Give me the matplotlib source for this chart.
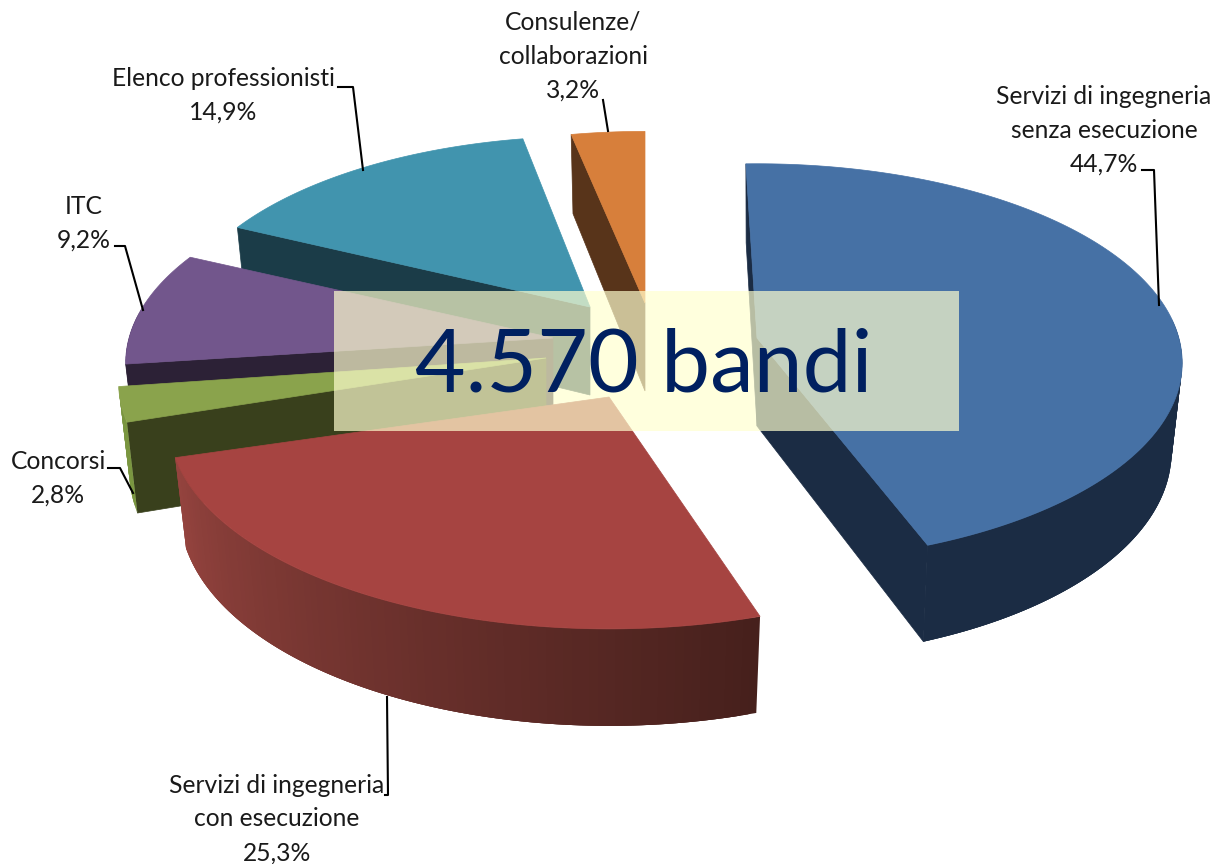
import numpy as np
import matplotlib
matplotlib.use('Agg')
import matplotlib.pyplot as plt
from matplotlib.patches import Polygon, Rectangle

# ---- dati
categorie = ['Servizi di ingegneria\nsenza esecuzione', 'Servizi di ingegneria\ncon esecuzione',
             'Concorsi', 'ITC', 'Elenco professionisti', 'Consulenze/\ncollaborazioni']
valori = [44.7, 25.3, 2.8, 9.2, 14.9, 3.2]
totale_bandi = '4.570 bandi'

# ---- stile delle fette (stesso ordine dei valori)
col_top = ['#4671a5', '#a64441', '#8aa34c', '#72568c', '#4194ae', '#d77f3b']
col_lato_a = ['#1b2c44', '#46201c', '#7a9640', '#2c2136', '#1b3c48', '#58341a']  # inizio fetta
col_lato_b = ['#1b2c44', '#96443f', '#7a9640', '#2c2136', '#1b3c48', '#58341a']  # fine fetta
col_taglio = ['#1b2c44', '#46201c', '#39401c', '#2c2136', '#1b3c48', '#58341a']
apice = [(757, 338), (609, 397), (546, 358), (553, 338), (590, 307), (645, 303)]  # esplosione
rotaz = [-1.7, 1.5, 0, 0.7, 1, 0]
scala = [0.995, 1.03, 1, 1, 0.975, 0.98]

# ---- etichette
pos_etich = [(1104, 130), (277, 819), (58, 478), (84, 223), (223, 95), (573, 56)]
leader = [[(1159, 305), (1154, 170), (1142, 170)],
          [(387, 697), (388, 795), (385, 795)],
          [(133, 493), (120, 468), (108, 468)],
          [(143, 310), (125, 246), (115, 246)],
          [(363, 170), (353, 87), (338, 87)],
          [(608, 131), (603, 100)]]

A, B, K = 424., 197., 0.125


def proiezione(t, centro, sc, basso=False):
    # punto del bordo (o del piano inferiore) della torta in prospettiva
    t = np.radians(t)
    X, Y = np.sin(t), np.cos(t)
    s = sc / (1 + K * Y)
    x, y = A * X * s, -B * Y * s
    if basso:
        x = x * 0.975
        y = y + 88 - 9 * Y
    return centro[0] + x, centro[1] + y


def mix(c1, c2, f):
    c1, c2 = np.array(matplotlib.colors.to_rgb(c1)), np.array(matplotlib.colors.to_rgb(c2))
    return tuple(c1 + (c2 - c1) * f)


def disegna_fetta(ax, i, t0, t1):
    c, sc = apice[i], scala[i]
    ang = np.arange(t0, t1, 1.0)
    ang = np.append(ang, t1)
    alto = [proiezione(t, c, sc) for t in ang]
    giu = [proiezione(t, c, sc, True) for t in ang]
    c_giu = (c[0], c[1] + 88)
    # tagli radiali, solo quelli rivolti verso chi guarda
    if np.sin(np.radians(t0)) < 0:
        ax.add_patch(Polygon([c, alto[0], giu[0], c_giu], fc=col_taglio[i], ec=col_taglio[i], lw=0.5))
    if np.sin(np.radians(t1)) > 0.01:
        ax.add_patch(Polygon([c, alto[-1], giu[-1], c_giu], fc=col_taglio[i], ec=col_taglio[i], lw=0.5))
    # parete esterna a strisce sovrapposte, per la sfumatura
    n = len(ang)
    for k in range(n - 1):
        if np.cos(np.radians(ang[k])) >= 0.1:
            continue
        col = mix(col_lato_a[i], col_lato_b[i], k / (n - 1))
        k2 = min(k + 3, n - 1)
        ax.add_patch(Polygon([alto[k], alto[k2], giu[k2], giu[k]], fc=col, ec='none', lw=0))
    ax.add_patch(Polygon([c] + alto, fc=col_top[i], ec=col_top[i], lw=0.5))


fig = plt.figure(figsize=(12.16, 8.64), dpi=100)
ax = fig.add_axes([0, 0, 1, 1])
ax.set_xlim(0, 1216)
ax.set_ylim(864, 0)
ax.axis('off')
plt.rcParams['font.family'] = ['Lato', 'DejaVu Sans']

limiti = np.concatenate(([0], np.cumsum(valori))) / sum(valori) * 360
# dal fondo verso l'osservatore
for i in [5, 4, 3, 2, 1, 0]:
    disegna_fetta(ax, i, limiti[i] + rotaz[i], limiti[i + 1] + rotaz[i])

for i in range(len(valori)):
    xs, ys = zip(*leader[i])
    ax.plot(xs, ys, color='black', lw=1.5)
    txt = categorie[i] + '\n' + ('%.1f%%' % valori[i]).replace('.', ',')
    ax.text(pos_etich[i][0], pos_etich[i][1], txt, ha='center', va='center', fontsize=17.7,
            color='#1a1a1a', linespacing=1.56)

ax.add_patch(Rectangle((334, 291), 625, 140, fc='#ffffcf', ec='none', alpha=0.69, zorder=5))
ax.text(644, 367, totale_bandi, ha='center', va='center', fontsize=63, color='#002060', zorder=6)

fig.savefig('out.png', dpi=100)
